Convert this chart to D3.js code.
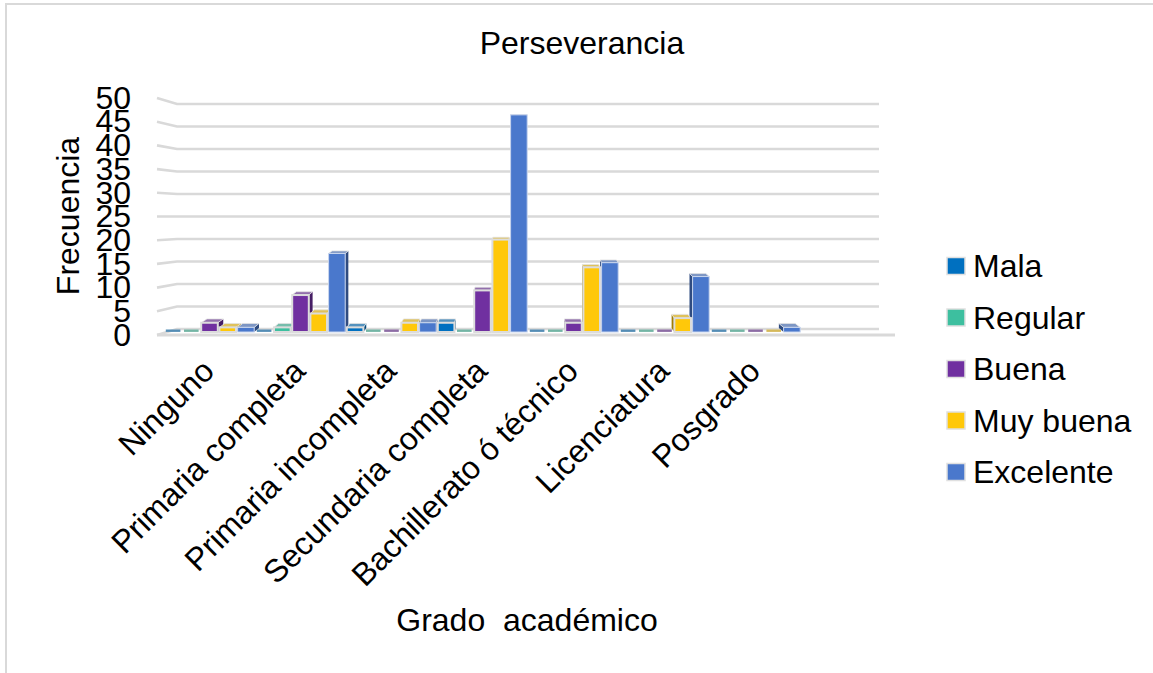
<!DOCTYPE html>
<html lang="es">
<head>
  <meta charset="UTF-8">
  <title>Perseverancia</title>
  <script src="https://d3js.org/d3.v7.min.js"></script>
  <style>
    html, body { margin: 0; background: #fff; overflow: hidden; }
    text { font-family: "Liberation Sans", Arial, sans-serif; fill: #000; }
  </style>
</head>
<body>
  <div id="chart"></div>
  <script>
    // Values
    const categories = ["Ninguno", "Primaria completa", "Primaria incompleta", "Secundaria completa", "Bachillerato ó técnico", "Licenciatura", "Posgrado"];
    const seriesNames = ["Mala", "Regular", "Buena", "Muy buena", "Excelente"];
    const mala = [0, 0, 1, 2, 0, 0, 0];
    const regular = [0, 1, 0, 0, 0, 0, 0];
    const buena = [2, 8, 0, 9, 2, 0, 0];
    const muyBuena = [1, 4, 2, 20, 14, 3, 0];
    const excelente = [1, 17, 2, 47, 15, 12, 1];
    const seriesValues = [mala, regular, buena, muyBuena, excelente];
    const colors = ["#0070c0", "#3dbf9f", "#7030a0", "#ffc80a", "#4a78cc"];
    const yTicks = d3.range(0, 51, 5);

    const width = 1153;
    const height = 673;

    const svg = d3.select("#chart").append("svg")
        .attr("width", width)
        .attr("height", height);

    // Frame, only the top and left edges are in the crop
    svg.append("rect")
        .attr("x", 6).attr("y", 4)
        .attr("width", width).attr("height", height)
        .attr("fill", "#fff")
        .attr("stroke", "#d9d9d9")
        .attr("stroke-width", 2);

    // Fake 3D: front edge of the wall, back edge of the wall, and the bars half way
    const yFront = d3.scaleLinear().domain([0, 50]).range([335, 98]);
    const yBack = d3.scaleLinear().domain([0, 50]).range([329, 104]);
    const yBar = d3.scaleLinear().domain([0, 50]).range([332, 101]);
    const x0 = d3.scaleBand().domain(categories).range([164, 801]);
    const x1 = d3.scaleBand().domain(seriesNames).range([0, x0.bandwidth()]);

    // Gridlines
    const grid = svg.append("g")
        .attr("fill", "none")
        .attr("stroke", "#d9d9d9")
        .attr("stroke-width", 2.6);
    grid.selectAll("path")
      .data(yTicks)
      .join("path")
        .attr("d", d => `M157,${yFront(d)}L177,${yBack(d)}H879`);
    grid.append("line")
        .attr("x1", 157).attr("x2", 895)
        .attr("y1", yFront(0)).attr("y2", yFront(0))
        .attr("stroke-width", 3);

    // Bars: sides lean to one vanishing point, so the far ones go first
    const vp = [520, 110];
    const depth = 0.018;
    const back = (x, y) => [x + (vp[0] - x) * depth, y + (vp[1] - y) * depth];
    const pad = 0.8;

    const bars = [];
    categories.forEach((c, i) => {
      seriesNames.forEach((s, j) => {
        bars.push({ category: c, series: s, value: seriesValues[j][i], color: colors[j] });
      });
    });
    bars.sort((a, b) =>
      Math.abs(x0(b.category) + x1(b.series) - vp[0]) - Math.abs(x0(a.category) + x1(a.series) - vp[0]));

    const barG = svg.append("g")
      .selectAll("g")
      .data(bars)
      .join("g");

    barG.each(function(d) {
      const g = d3.select(this);
      const xl = x0(d.category) + x1(d.series) + pad;
      const xr = xl + x1.bandwidth() - pad * 2;
      const yb = yBar(0);
      const yt = yBar(d.value);

      if (d.value === 0) {
        g.append("rect")
            .attr("x", xl + 1).attr("y", yb - 2.5)
            .attr("width", xr - xl - 2).attr("height", 2.4)
            .attr("fill", d3.interpolateRgb(d.color, "#aaa")(0.5));
        return;
      }

      const poly = pts => pts.map(p => p.join(",")).join(" ");
      const isRight = xr < vp[0];
      const xe = isRight ? xr : xl;
      // side face
      g.append("polygon")
          .attr("points", poly([[xe, yt], back(xe, yt), back(xe, yb), [xe, yb]]))
          .attr("fill", d3.color(d.color).darker(1.3));
      // top face
      g.append("polygon")
          .attr("points", poly([[xl, yt], [xr, yt], back(xr, yt), back(xl, yt)]))
          .attr("fill", d3.interpolateRgb(d.color, "#bbb")(0.45))
          .attr("stroke", "#e2e2e2")
          .attr("stroke-width", 0.8);
      // front face
      g.append("rect")
          .attr("x", xl).attr("y", yt)
          .attr("width", xr - xl).attr("height", yb - yt)
          .attr("fill", d.color)
          .attr("stroke", d.series === "Excelente" ? "#c9d6ee" : "#dcdcdc")
          .attr("stroke-width", d.series === "Excelente" ? 1 : 2);
    });

    // Y axis
    const yAxis = svg.append("g")
        .attr("transform", "translate(131,0)")
        .call(d3.axisLeft(yFront).tickValues(yTicks).tickSize(0).tickPadding(0));
    yAxis.select(".domain").remove();
    yAxis.selectAll("text")
        .attr("font-size", 32)
        .style("font-family", '"Liberation Sans", Arial, sans-serif');

    // X axis
    const xAxis = svg.append("g")
        .attr("transform", "translate(0,335)")
        .call(d3.axisBottom(x0).tickSize(0));
    xAxis.select(".domain").remove();
    xAxis.selectAll("text")
        .attr("font-size", 32)
        .style("font-family", '"Liberation Sans", Arial, sans-serif')
        .attr("text-anchor", "end")
        .attr("dy", 0)
        .attr("y", 0)
        .attr("transform", "translate(6.5,38) rotate(-45)");

    // Titles
    svg.append("text")
        .attr("x", 582).attr("y", 54)
        .attr("text-anchor", "middle")
        .attr("font-size", 32)
        .text("Perseverancia");
    svg.append("text")
        .attr("x", 527).attr("y", 631)
        .attr("text-anchor", "middle")
        .attr("font-size", 32)
        .style("white-space", "pre")
        .text("Grado  académico");
    svg.append("text")
        .attr("transform", "translate(79,216) rotate(-90)")
        .attr("text-anchor", "middle")
        .attr("font-size", 32)
        .text("Frecuencia");

    // Legend
    const legendY = d3.scalePoint().domain(seriesNames).range([266, 472]);
    const legend = svg.append("g")
      .selectAll("g")
      .data(seriesNames)
      .join("g")
        .attr("transform", d => `translate(947,${legendY(d)})`);
    legend.append("rect")
        .attr("y", -8.5)
        .attr("width", 18).attr("height", 17)
        .attr("fill", (d, i) => colors[i])
        .attr("stroke", "#e0e0e0")
        .attr("stroke-width", 1.5);
    legend.append("text")
        .attr("x", 26).attr("y", 11)
        .attr("font-size", 32)
        .text(d => d);
  </script>
</body>
</html>
